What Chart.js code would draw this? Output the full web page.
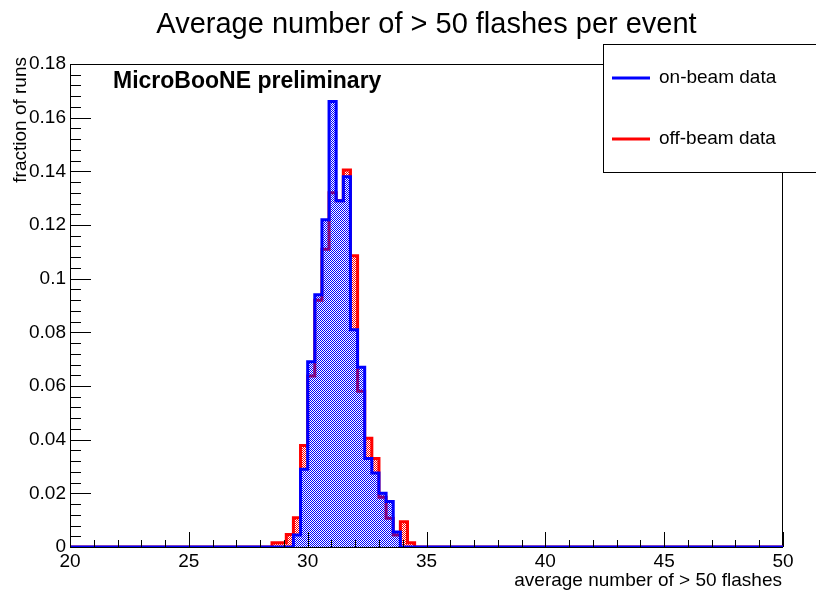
<!DOCTYPE html>
<html>
<head>
<meta charset="utf-8">
<script src="https://cdn.jsdelivr.net/npm/chart.js@4.4.1/dist/chart.umd.min.js"></script>
<style>
  html, body { margin: 0; padding: 0; background: #fff; }
  canvas { display: block; }
</style>
</head>
<body>
<canvas id="histo" width="816" height="594"></canvas>
<script>
// bin lower edges (bin width 0.3)
const binLow = [28.5, 28.8, 29.1, 29.4, 29.7, 30.0, 30.3, 30.6, 30.9, 31.2, 31.5, 31.8, 32.1, 32.4, 32.7, 33.0, 33.3, 33.6, 33.9, 34.2];
const binHigh = 34.5;
// fraction of runs per bin
const onBeam  = [0, 0, 0, 0.0045, 0.029, 0.069, 0.094, 0.122, 0.166, 0.129, 0.138, 0.081, 0.067, 0.033, 0.0276, 0.020, 0.017, 0.0056, 0, 0];
const offBeam = [0.0016, 0.0016, 0.0047, 0.0109, 0.0378, 0.0637, 0.092, 0.111, 0.132, 0.129, 0.1405, 0.1085, 0.058, 0.0405, 0.033, 0.0185, 0.0107, 0.0045, 0.0094, 0.0016];
const xRange = [20, 50];
const yRange = [0, 0.18];

const FONT = '"Liberation Sans", Arial, Helvetica, sans-serif';

// step points: value holds from a bin's lower edge to the next edge
function steps(vals) {
  const pts = [{ x: xRange[0], y: 0 }];
  binLow.forEach((x, i) => pts.push({ x, y: vals[i] }));
  pts.push({ x: binHigh, y: 0 });
  pts.push({ x: xRange[1], y: 0 });
  return pts;
}

const cv = document.getElementById('histo');
const ctx = cv.getContext('2d');

// ROOT-like dotted fill
function dots(color) {
  const c = document.createElement('canvas');
  c.width = 2; c.height = 2;
  const g = c.getContext('2d');
  g.fillStyle = color;
  g.fillRect(0, 0, 1, 1);
  g.fillRect(1, 1, 1, 1);
  return ctx.createPattern(c, 'repeat');
}

// frame, inside ticks, titles, legend box
const rootStyle = {
  id: 'rootStyle',
  beforeDatasetsDraw(chart) {
    const { left, right, top, bottom } = chart.chartArea;
    const c = chart.ctx;
    c.save();
    c.strokeStyle = '#000';
    c.lineWidth = 1;
    c.strokeRect(left + 0.5, top + 0.5, right - left - 1, bottom - top);
    c.restore();
  },
  afterDatasetsDraw(chart) {
    const { left, bottom } = chart.chartArea;
    const xs = chart.scales.x, ys = chart.scales.y;
    const c = chart.ctx;
    c.save();
    c.strokeStyle = '#000';
    c.lineWidth = 1;
    c.beginPath();
    for (let i = 0; i <= 45; i++) {
      const py = Math.round(ys.getPixelForValue(i * 0.004)) + 0.5;
      const len = i % 5 === 0 ? 21 : 11;
      c.moveTo(left, py); c.lineTo(left + len, py);
    }
    for (let v = xRange[0]; v <= xRange[1]; v++) {
      const px = Math.round(xs.getPixelForValue(v)) + 0.5;
      const len = v % 5 === 0 ? 15 : 7;
      c.moveTo(px, bottom); c.lineTo(px, bottom - len);
    }
    c.stroke();
    c.restore();
  },
  afterDraw(chart) {
    const { left, right } = chart.chartArea;
    const c = chart.ctx;
    c.save();
    c.fillStyle = '#000';
    c.textBaseline = 'alphabetic';

    c.font = '29px ' + FONT;
    c.textAlign = 'center';
    c.fillText('Average number of > 50 flashes per event', (left + right) / 2, 33);

    c.font = 'bold 23px ' + FONT;
    c.textAlign = 'left';
    c.fillText('MicroBooNE preliminary', 113, 88);

    c.font = '19px ' + FONT;
    c.textAlign = 'right';
    c.fillText('average number of > 50 flashes', 782, 586);

    c.save();
    c.translate(26, 57);
    c.rotate(-Math.PI / 2);
    c.textAlign = 'right';
    c.fillText('fraction of runs', 0, 0);
    c.restore();

    // legend
    c.fillStyle = '#fff';
    c.fillRect(603, 44, 220, 128);
    c.strokeStyle = '#000';
    c.lineWidth = 1;
    c.strokeRect(603.5, 44.5, 220, 128);
    const entries = [['on-beam data', '#0000ff', 78], ['off-beam data', '#ff0000', 139]];
    c.lineWidth = 3;
    c.textAlign = 'left';
    c.textBaseline = 'middle';
    c.font = '19px ' + FONT;
    entries.forEach(([label, col, y]) => {
      c.strokeStyle = col;
      c.beginPath(); c.moveTo(612, y); c.lineTo(650, y); c.stroke();
      c.fillStyle = '#000';
      c.fillText(label, 659, y);
    });
    c.restore();
  }
};

new Chart(cv, {
  type: 'line',
  data: {
    datasets: [
      { label: 'on-beam data', data: steps(onBeam), stepped: 'before', borderColor: '#0000ff', borderWidth: 3, backgroundColor: dots('#0000ff'), fill: 'origin', pointRadius: 0 },
      { label: 'off-beam data', data: steps(offBeam), stepped: 'before', borderColor: '#ff0000', borderWidth: 3, backgroundColor: dots('#ff0000'), fill: 'origin', pointRadius: 0 },
    ],
  },
  options: {
    responsive: false, animation: false, devicePixelRatio: 1,
    layout: { padding: { top: 64, right: 33, left: 0, bottom: 0 } },
    plugins: { legend: { display: false }, tooltip: { enabled: false } },
    scales: {
      x: {
        type: 'linear', min: xRange[0], max: xRange[1],
        grid: { display: false, drawTicks: false, tickLength: 0 }, border: { display: false },
        ticks: { stepSize: 5, color: '#000', padding: 3, maxRotation: 0, font: { family: FONT, size: 19 } },
        afterFit: (s) => { s.height = 47; },
      },
      y: {
        min: yRange[0], max: yRange[1],
        grid: { display: false, drawTicks: false, tickLength: 0 }, border: { display: false },
        ticks: { stepSize: 0.02, color: '#000', padding: 4, font: { family: FONT, size: 19 },
          callback: (v) => String(+v.toFixed(2)) },
        afterFit: (s) => { s.width = 70; },
      },
    },
  },
  plugins: [rootStyle],
});
</script>
</body>
</html>
